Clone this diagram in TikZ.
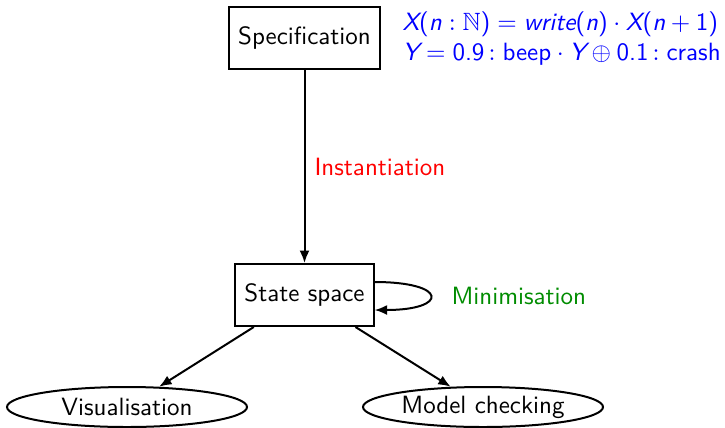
\documentclass[tikz,border=0pt]{standalone}
\usepackage{amssymb}
\usetikzlibrary{shapes.geometric,arrows.meta}
\newcommand{\tv}[1]{\textsf{\itshape #1}}
\newcommand{\tu}[1]{\textsf{\upshape #1}}
\newcommand{\po}{\mathopen{\tu{(}}}
\newcommand{\pc}{\mathclose{\tu{)}}}
\begin{document}
\begin{tikzpicture}[x=0.4pt,y=-0.4pt,font=\sffamily,
  box/.style={draw,line width=0.8pt,rectangle,minimum height=24.8pt,inner xsep=3.6pt},
  oval/.style={draw,line width=0.8pt,ellipse,minimum width=96pt,minimum height=16pt,inner sep=0pt},
  conn/.style={line width=0.8pt,-{Latex[length=5pt,width=4pt]}},
  lbl/.style={inner sep=0pt,anchor=west},
  eqn/.style={inner sep=0pt,anchor=base west,text=blue}]
\useasboundingbox (0,0) rectangle (725,427);
\node[box,minimum width=59.2pt] (spec) at (304.5,38) {Specification};
\node[box,minimum width=54.4pt] (ss) at (304.5,295) {State space};
\node[oval] (vis) at (127,407) {Visualisation};
\node[oval] (mc) at (483,407) {Model checking};
\draw[conn] (spec) -- (ss) node[midway,right=3.6pt,inner sep=0pt,text=red] (inst) {Instantiation};
\coordinate (lo) at ([yshift=5.2pt]ss.east);
\coordinate (li) at ([yshift=-6pt]ss.east);
\draw[conn] (lo) .. controls +(74,0) and +(74,0) .. (li);
\node[eqn] (eq1) at (402,30) {$\tv{X}\po\tv{n}:\mathbb{N}\pc = \tv{write}\po\tv{n}\pc\cdot\tv{X}\po\tv{n}+\tu{1}\pc$};
\node[eqn] (eq2) at (402,60) {$\tv{Y} = \tu{0.9}\,{:}\;\tu{beep}\cdot\tv{Y}\oplus\tu{0.1}\,{:}\;\tu{crash}$};
\node[lbl,text=green!55!black] (min) at (451,296) {Minimisation};
\draw[conn] (ss) -- (vis);
\draw[conn] (ss) -- (mc);
\end{tikzpicture}
\end{document}
